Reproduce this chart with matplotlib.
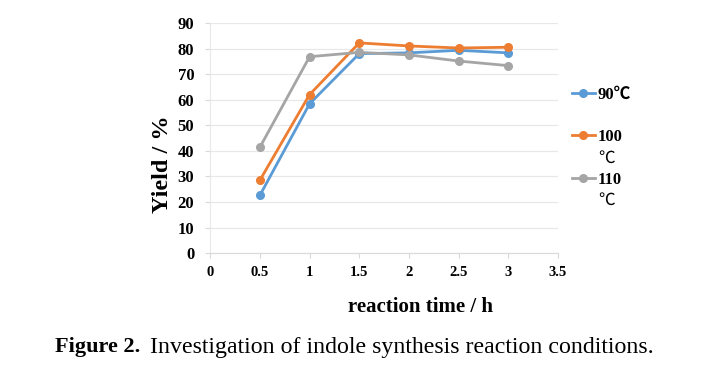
import matplotlib.pyplot as plt

# reaction time (h) and yield (%)
times = [0.5, 1, 1.5, 2, 2.5, 3]
yield90 = [22.6, 58.4, 78.0, 78.3, 79.3, 78.3]
yield100 = [28.5, 62.0, 82.2, 81.0, 80.2, 80.5]
yield110 = [41.4, 76.8, 78.5, 77.5, 75.1, 73.3]
seriesLabels = ["90\u2103", "100", "110"]
labelSuffix = ["", "\u2103", "\u2103"]
seriesColors = ["#5B9BD5", "#ED7D31", "#A5A5A5"]
xTicks = [0, 0.5, 1, 1.5, 2, 2.5, 3, 3.5]
xTickLabels = ["0", "0.5", "1", "1.5", "2", "2.5", "3", "3.5"]
yTicks = list(range(0, 100, 10))

serif = ["Liberation Serif", "Noto Sans CJK SC", "DejaVu Serif"]
plt.rcParams['font.family'] = serif

fig = plt.figure(figsize=(7.2, 3.7), dpi=100)
ax = fig.add_axes([0.292, 0.316, 0.483, 0.622])

for values, label, color in zip([yield90, yield100, yield110], seriesLabels, seriesColors):
    ax.plot(times, values, color=color, marker='o', markersize=5.5, linewidth=2, label=label)

ax.set_xlim(0, 3.5)
ax.set_ylim(0, 90)
ax.set_xticks(xTicks)
ax.set_xticklabels(xTickLabels, fontsize=10.5, fontweight='bold')
ax.set_yticks(yTicks)
ax.set_yticklabels([str(v) for v in yTicks], fontsize=12, fontweight='bold')
ax.tick_params(direction='out', length=3.5, color='#D9D9D9')
ax.tick_params(axis='x', pad=6)
ax.tick_params(axis='y', pad=8)
ax.grid(axis='y', color='#E8E8E8', linewidth=0.9)
ax.set_axisbelow(True)
for side in ['top', 'right']:
    ax.spines[side].set_visible(False)
ax.spines['bottom'].set_color('#D9D9D9')
ax.spines['left'].set_color('#E8E8E8')

ax.set_ylabel("Yield / %", fontsize=17.5, fontweight='bold')
ax.yaxis.set_label_coords(-0.108, 0.385)
ax.set_xlabel("reaction time / h", fontsize=15, fontweight='bold')
ax.xaxis.set_label_coords(0.606, -0.191)

leg = ax.legend(loc='upper left', bbox_to_anchor=(1.02, 0.753), borderaxespad=0, frameon=False,
                handlelength=1.4, handletextpad=0.15, labelspacing=1.6,
                prop={'family': serif, 'weight': 'bold', 'size': 12})

# the degree sign wraps onto a second line for the two longer labels
fig.canvas.draw()
for legText, suffix in zip(leg.get_texts(), labelSuffix):
    if suffix:
        ax.annotate(suffix, xy=(0, 0.5), xycoords=legText, xytext=(0.5, -15),
                    textcoords='offset points', ha='left', va='center',
                    fontsize=12, family=["Noto Sans CJK SC", "DejaVu Sans"],
                    annotation_clip=False)

figLabel = fig.text(0.076, 0.062, "Figure 2.", fontsize=16, fontweight='bold', va='center')
fig.canvas.draw()
ax.annotate("Investigation of indole synthesis reaction conditions.", xy=(1, 0.5), xycoords=figLabel,
            xytext=(7, 0), textcoords='offset points', ha='left', va='center', fontsize=17.2,
            annotation_clip=False)

fig.savefig("out.png", dpi=100)
